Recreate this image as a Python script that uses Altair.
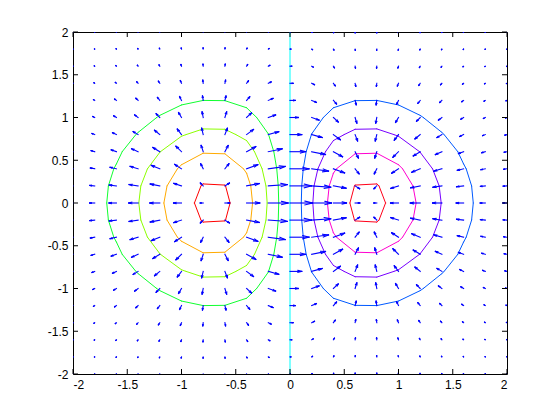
import numpy as np
import pandas as pd
import altair as alt

# ---- data ----
grid_x = [-2.0, -1.8, -1.6, -1.4, -1.2, -1.0, -0.8, -0.6, -0.4, -0.2, 0.0,
          0.2, 0.4, 0.6, 0.8, 1.0, 1.2, 1.4, 1.6, 1.8, 2.0]
grid_y = [-2.0, -1.8, -1.6, -1.4, -1.2, -1.0, -0.8, -0.6, -0.4, -0.2, 0.0,
          0.2, 0.4, 0.6, 0.8, 1.0, 1.2, 1.4, 1.6, 1.8, 2.0]
# surface profile along x (at y = 0) and relative profile along y
x_profile = [-0.0366, -0.0705, -0.1237, -0.1972, -0.2843, -0.3679, -0.4218,
             -0.4186, -0.3409, -0.1922, 0.0, 0.1922, 0.3409, 0.4186, 0.4218,
             0.3679, 0.2843, 0.1972, 0.1237, 0.0705, 0.0366]
y_profile = [0.0183, 0.0392, 0.0773, 0.1409, 0.2369, 0.3679, 0.5273, 0.6977,
             0.8521, 0.9608, 1.0, 0.9608, 0.8521, 0.6977, 0.5273, 0.3679,
             0.2369, 0.1409, 0.0773, 0.0392, 0.0183]
levels = [-0.4, -0.3, -0.2, -0.1, 0.0, 0.1, 0.2, 0.3, 0.4]
level_colors = ["#ff0000", "#ffaa00", "#8cff00", "#10ff30", "#00ffff",
                "#0059ff", "#7700ff", "#ff00d0", "#ff0018"]
tick_values = [-2, -1.5, -1, -0.5, 0, 0.5, 1, 1.5, 2]

# ---- build tables ----
X = np.array(grid_x)
Y = np.array(grid_y)
Z = np.outer(np.array(y_profile), np.array(x_profile))  # Z[i, j] at (X[j], Y[i])
DY, DX = np.gradient(Z, 0.2, 0.2)

ARROW_MAX = 0.205  # longest arrow, in x units
s = ARROW_MAX / np.sqrt(DX ** 2 + DY ** 2).max()
U = DX * s
V = DY * s
a, b = 0.33, 0.33
arrows = []
for i in range(len(Y)):
    for j in range(len(X)):
        x0, y0, u, v = X[j], Y[i], U[i, j], V[i, j]
        tx, ty = x0 + u, y0 + v
        arrows.append((x0, y0, tx, ty))
        arrows.append((tx - a * (u + b * v), ty - a * (v - b * u), tx, ty))
        arrows.append((tx - a * (u - b * v), ty - a * (v + b * u), tx, ty))
arrow_df = pd.DataFrame(arrows, columns=["x", "y", "x2", "y2"])


def march(L):
    segs = []
    for i in range(len(Y) - 1):
        for j in range(len(X) - 1):
            c = [(X[j], Y[i], Z[i, j]), (X[j + 1], Y[i], Z[i, j + 1]),
                 (X[j + 1], Y[i + 1], Z[i + 1, j + 1]), (X[j], Y[i + 1], Z[i + 1, j])]
            pts = []
            for k in range(4):
                xa, ya, za = c[k]
                xb, yb, zb = c[(k + 1) % 4]
                if (za >= L) != (zb >= L):
                    t = (L - za) / (zb - za)
                    pts.append((xa + t * (xb - xa), ya + t * (yb - ya)))
                else:
                    pts.append(None)
            got = [p for p in pts if p is not None]
            if len(got) == 2:
                segs.append((got[0], got[1]))
            elif len(got) == 4:
                centre = np.mean([cc[2] for cc in c])
                if (centre >= L) == (c[0][2] >= L):
                    segs += [(pts[0], pts[1]), (pts[2], pts[3])]
                else:
                    segs += [(pts[3], pts[0]), (pts[1], pts[2])]
    return segs


crow = []
for L in levels:
    for p, q in march(L):
        crow.append((p[0], p[1], q[0], q[1], f"{L:.1f}"))
contour_df = pd.DataFrame(crow, columns=["x", "y", "x2", "y2", "level"])
ticks_df = pd.DataFrame({"t": tick_values})

# ---- chart ----
W, H = 434, 342
FONT = "Liberation Sans"
xs = alt.Scale(domain=[-2, 2], nice=False, zero=False)
ys = alt.Scale(domain=[-2, 2], nice=False, zero=False)
xax = alt.Axis(values=tick_values, labelExpr="datum.value + ''", domain=False,
               ticks=False, grid=False, title=None, labelFont=FONT,
               labelFontSize=12, labelColor="black", labelPadding=5)
yax = alt.Axis(values=tick_values, labelExpr="datum.value + ''", domain=False,
               ticks=False, grid=False, title=None, labelFont=FONT,
               labelFontSize=12, labelColor="black", labelPadding=5)

contours = alt.Chart(contour_df).mark_rule(strokeWidth=1, clip=True, strokeCap="round").encode(
    x=alt.X("x:Q", scale=xs, axis=xax),
    y=alt.Y("y:Q", scale=ys, axis=yax),
    x2="x2:Q", y2="y2:Q",
    color=alt.Color("level:N", scale=alt.Scale(domain=[f"{L:.1f}" for L in levels],
                                                range=level_colors), legend=None),
)
quiver = alt.Chart(arrow_df).mark_rule(strokeWidth=1.1, color="#0000ff", clip=True,
                                       strokeCap="square").encode(
    x=alt.X("x:Q", scale=xs, axis=xax),
    y=alt.Y("y:Q", scale=ys, axis=yax),
    x2="x2:Q", y2="y2:Q",
)
tk = alt.Chart(ticks_df).mark_rule(color="black", strokeWidth=1)
t_bottom = tk.encode(x=alt.X("t:Q", scale=xs, axis=xax), y=alt.value(H), y2=alt.value(H - 5))
t_top = tk.encode(x=alt.X("t:Q", scale=xs, axis=xax), y=alt.value(0), y2=alt.value(5))
t_left = tk.encode(y=alt.Y("t:Q", scale=ys, axis=yax), x=alt.value(0), x2=alt.value(5))
t_right = tk.encode(y=alt.Y("t:Q", scale=ys, axis=yax), x=alt.value(W), x2=alt.value(W - 5))

chart = alt.layer(contours, quiver, t_bottom, t_top, t_left, t_right).properties(
    width=W, height=H,
    autosize=alt.AutoSizeParams(type="none"),
    padding={"left": 65, "top": 24, "right": 40, "bottom": 30},
    background="white",
).configure_view(stroke="black", strokeWidth=1)

chart.save("out.html", embed_options={"renderer": "svg", "actions": False})
